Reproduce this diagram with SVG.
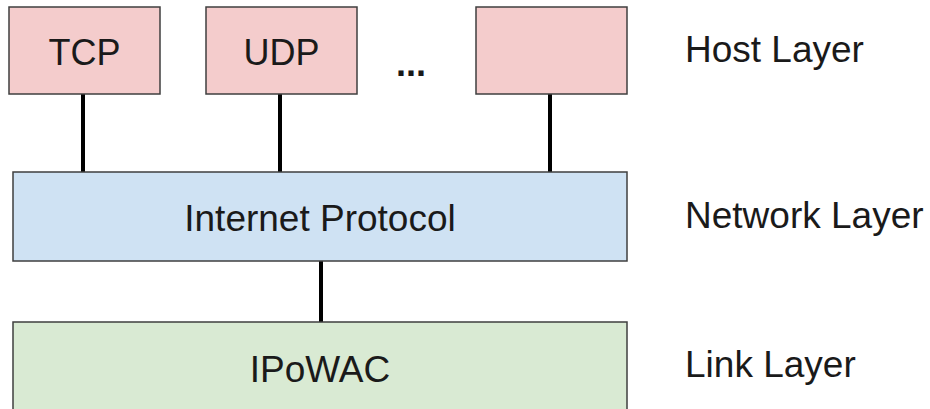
<svg xmlns="http://www.w3.org/2000/svg" width="930" height="409" viewBox="0 0 930 409">
<style>
.box{stroke:#3f3f3f;stroke-width:1.5}
.host{fill:#f4cccc}
.net{fill:#cfe2f3}
.link{fill:#d9ead3}
.t{font-family:"Liberation Sans",Arial,sans-serif;font-size:37px;fill:#1a1a1a}
.s{font-size:36px}
.c{text-anchor:middle}
.conn line{stroke:#000;stroke-width:4}
</style>
<rect width="930" height="409" fill="#fff"/>
<g class="conn">
<line x1="83" y1="93" x2="83" y2="173"/>
<line x1="280" y1="93" x2="280" y2="173"/>
<line x1="550" y1="93" x2="550" y2="173"/>
<line x1="321" y1="260" x2="321" y2="323"/>
</g>
<g id="tcp"><rect class="box host" x="9" y="7" width="151" height="87"/><text class="t s c" x="84.5" y="65">TCP</text></g>
<g id="udp"><rect class="box host" x="206" y="7" width="151" height="87"/><text class="t s c" x="281.5" y="65">UDP</text></g>
<g id="dots"><text class="t s" x="396" y="76" font-weight="bold">...</text></g>
<g id="other"><rect class="box host" x="476" y="7" width="151" height="87"/></g>
<g id="ip"><rect class="box net" x="13" y="172" width="614" height="89"/><text class="t c" x="320" y="231">Internet Protocol</text></g>
<g id="ipowac"><rect class="box link" x="13" y="322" width="614" height="100"/><text class="t c" x="320" y="382">IPoWAC</text></g>
<g id="labels">
<text class="t" x="685" y="62">Host Layer</text>
<text class="t" x="685" y="228">Network Layer</text>
<text class="t" x="685" y="377">Link Layer</text>
</g>
</svg>
